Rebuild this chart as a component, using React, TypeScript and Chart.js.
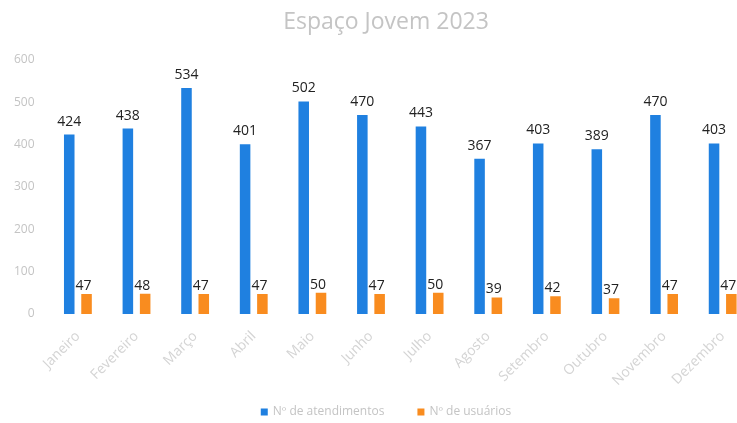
import React, { useEffect, useRef } from "react";
import { Chart, registerables } from "chart.js";

Chart.register(...registerables);

const months = [
  "Janeiro", "Fevereiro", "Março", "Abril", "Maio", "Junho",
  "Julho", "Agosto", "Setembro", "Outubro", "Novembro", "Dezembro",
];
const atendimentos = [424, 438, 534, 401, 502, 470, 443, 367, 403, 389, 470, 403];
const usuarios = [47, 48, 47, 47, 50, 47, 50, 39, 42, 37, 47, 47];
const seriesNames = ["Nº de atendimentos", "Nº de usuários"];
const seriesColors = ["#1f80e0", "#f98c1f"];
const titleText = "Espaço Jovem 2023";

const FONT = "'Open Sans', 'Noto Sans', sans-serif";
const CENTER_X = 386;

const valueLabels = {
  id: "valueLabels",
  afterDatasetsDraw(chart: any) {
    const ctx = chart.ctx;
    ctx.save();
    ctx.font = `14px ${FONT}`;
    ctx.fillStyle = "#222";
    ctx.textAlign = "center";
    ctx.textBaseline = "alphabetic";
    chart.data.datasets.forEach((ds: any, di: number) => {
      const meta = chart.getDatasetMeta(di);
      meta.data.forEach((el: any, i: number) => {
        const dx = di === 1 ? -3 : 0;
        const dy = di === 1 ? 4 : 9;
        ctx.fillText(String(ds.data[i]), el.x + dx, el.y - dy);
      });
    });
    ctx.restore();
  },
};

const titleAndLegend = {
  id: "titleAndLegend",
  afterDraw(chart: any) {
    const ctx = chart.ctx;
    ctx.save();
    // title
    ctx.font = `23px ${FONT}`;
    ctx.fillStyle = "#c4c4c4";
    ctx.textAlign = "center";
    ctx.textBaseline = "middle";
    ctx.fillText(titleText, CENTER_X, 22);
    // legend
    ctx.font = `12px ${FONT}`;
    const box = 7;
    const gapBox = 5;
    const gapItem = 33;
    const widths = seriesNames.map((n) => ctx.measureText(n).width);
    const total =
      widths.reduce((a, w) => a + box + gapBox + w, 0) + gapItem * (seriesNames.length - 1);
    let x = CENTER_X - total / 2;
    const y = 412;
    ctx.textAlign = "left";
    seriesNames.forEach((n, i) => {
      ctx.fillStyle = seriesColors[i];
      ctx.fillRect(x, y - box / 2, box, box);
      x += box + gapBox;
      ctx.fillStyle = "#c4c4c4";
      ctx.fillText(n, x, y);
      x += widths[i] + gapItem;
    });
    ctx.restore();
  },
};

export default function App() {
  const ref = useRef<HTMLCanvasElement | null>(null);
  useEffect(() => {
    document.body.style.margin = "0";
    document.body.style.overflow = "hidden";
    const chart = new Chart(ref.current!, {
      type: "bar",
      data: {
        labels: months,
        datasets: seriesNames.map((name, i) => ({
          label: name,
          data: i === 0 ? atendimentos : usuarios,
          backgroundColor: seriesColors[i],
          categoryPercentage: 0.59,
          barPercentage: 0.61,
        })),
      },
      options: {
        responsive: false,
        animation: false,
        layout: { padding: { left: 0, right: 0, top: 60, bottom: 20 } },
        plugins: {
          title: { display: false },
          legend: { display: false },
          tooltip: { enabled: false },
        },
        scales: {
          x: {
            grid: { display: false, drawTicks: false },
            border: { display: false },
            ticks: {
              color: "#d4d4d4",
              font: { family: FONT, size: 14 },
              minRotation: 45,
              maxRotation: 45,
              padding: 14,
            },
          },
          y: {
            min: 0,
            max: 600,
            grid: { display: false, drawTicks: false },
            border: { display: false },
            ticks: {
              stepSize: 100,
              color: "#c4c4c4",
              font: { family: FONT, size: 12 },
              padding: 14,
            },
          },
        },
      },
      plugins: [valueLabels, titleAndLegend],
    });
    return () => chart.destroy();
  }, []);
  return (
    <div style={{ width: 737, height: 423, overflow: "hidden" }}>
      <canvas ref={ref} width={752} height={423} />
    </div>
  );
}
